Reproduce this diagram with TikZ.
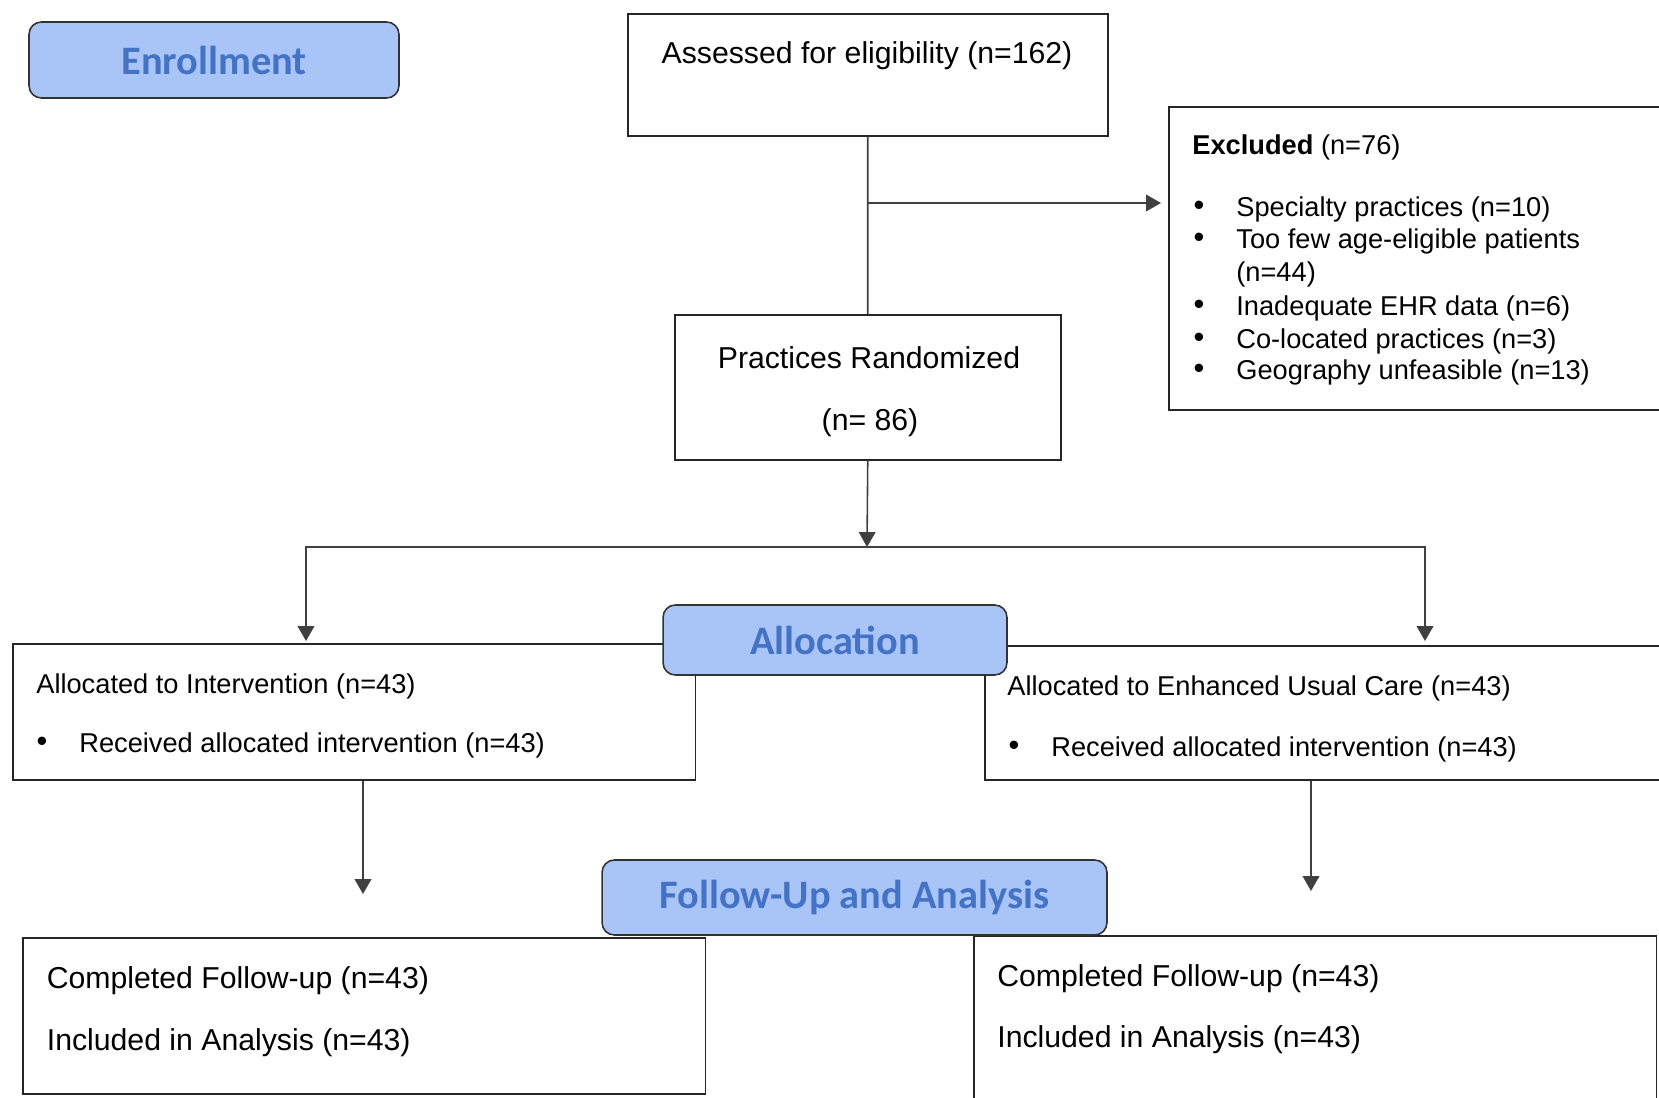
\documentclass[tikz,border=0pt]{standalone}
\usepackage{fontspec}
\setmainfont{Liberation Sans}
\newfontfamily\hdrfont{Carlito}
\usetikzlibrary{arrows.meta}

\definecolor{hdrfill}{RGB}{169,197,248}
\definecolor{hdrtext}{RGB}{68,114,196}

\begin{document}
\begin{tikzpicture}[x=0.02cm, y=-0.02cm,
  box/.style={draw=black!85, line width=0.9pt, inner sep=0pt, anchor=north west},
  hdr/.style={draw=black!80, line width=0.9pt, rounded corners=7pt, fill=hdrfill,
    text=hdrtext, font=\hdrfont\bfseries\fontsize{23}{28}\selectfont, inner sep=0pt},
  txt/.style={anchor=west, inner sep=0pt, font=\fontsize{15.5}{19}\selectfont},
  bigtxt/.style={inner sep=0pt, font=\fontsize{17.2}{21}\selectfont},
  dot/.style={inner sep=0pt, font=\fontsize{17.5}{19}\selectfont},
  line/.style={draw=black!75, line width=0.9pt},
  arr/.style={line, -{Triangle[length=8.5pt,width=9.5pt]}}]

\useasboundingbox (0,0) rectangle (1659,1098);
\clip (0,0) rectangle (1659,1098);

%% boxes
\node [box, minimum width=9.6cm, minimum height=2.44cm] (assess) at (627,13) {};
\node [box, minimum width=10.4cm, minimum height=6.06cm] (excl) at (1168,106) {};
\node [box, minimum width=7.72cm, minimum height=2.9cm] (rand) at (674,314) {};
\node [box, minimum width=13.66cm, minimum height=2.72cm] (allocL) at (12,643) {};
\node [box, minimum width=14.12cm, minimum height=2.68cm] (allocR) at (984,645) {};
\node [box, minimum width=13.66cm, minimum height=3.12cm] (fuL) at (22,937) {};
\node [box, minimum width=13.66cm, minimum height=3.7cm] (fuR) at (973,935) {};

%% connectors
\draw [line] (assess.south) -- (rand.north);
\coordinate (tee) at (867,203);
\draw [arr, shorten >=4pt] (tee) -- (excl.west |- tee);

\coordinate (split) at (867,547);
\coordinate (armL) at (306,641);
\coordinate (armR) at (1425,641);
\draw [arr] (rand.south) -- (split);
\draw [arr] (split) -| (armL);
\draw [arr] (split) -| (armR);

\coordinate (dropL) at (363,894);
\coordinate (dropR) at (1311,891);
\draw [arr] (allocL.south -| dropL) -- (dropL);
\draw [arr] (allocR.south -| dropR) -- (dropR);

%% stage headers
\node [hdr, minimum width=7.4cm, minimum height=1.52cm] (enroll) at (214,60) {Enrollment};
\node [hdr, minimum width=6.88cm, minimum height=1.4cm] (allocHdr) at (835,640) {Allocation};
\node [hdr, minimum width=10.1cm, minimum height=1.5cm] (fuHdr) at (854.5,897.5) {Follow-Up and Analysis};

%% Assessed
\node [bigtxt] (assessTxt) at (867,56) {Assessed for eligibility (n=162)};

%% Excluded
\node [txt] (exclHead) at (1192,147) {\textbf{Excluded} (n=76)};
\node [dot] (exclB1) at (1199,208) {\textbullet};
\node [txt] (exclT1) at (1236,209) {Specialty practices (n=10)};
\node [dot] (exclB2) at (1199,240) {\textbullet};
\node [txt] (exclT2) at (1236,241) {Too few age-eligible patients};
\node [txt] (exclT2b) at (1236,274) {(n=44)};
\node [dot] (exclB3) at (1199,307) {\textbullet};
\node [txt] (exclT3) at (1236,308) {Inadequate EHR data (n=6)};
\node [dot] (exclB4) at (1199,340) {\textbullet};
\node [txt] (exclT4) at (1236,341) {Co-located practices (n=3)};
\node [dot] (exclB5) at (1199,371) {\textbullet};
\node [txt] (exclT5) at (1236,372) {Geography unfeasible (n=13)};

%% Randomized
\node [bigtxt] (randTxt) at (869,358) {Practices Randomized};
\node [bigtxt] (randN) at (870,423) {(n= 86)};

%% Allocation, left and right
\node [txt] (allocLTxt) at (36,686) {Allocated to Intervention (n=43)};
\node [dot] (allocLB) at (42,744) {\textbullet};
\node [txt] (allocLRec) at (79,745) {Received allocated intervention (n=43)};
\node [txt] (allocRTxt) at (1007,688) {Allocated to Enhanced Usual Care (n=43)};
\node [dot] (allocRB) at (1014,748) {\textbullet};
\node [txt] (allocRRec) at (1051,749) {Received allocated intervention (n=43)};

%% Follow-up, left and right
\node [bigtxt, anchor=west] (fuLDone) at (46.5,981) {Completed Follow-up (n=43)};
\node [bigtxt, anchor=west] (fuLIncl) at (46.5,1043) {Included in Analysis (n=43)};
\node [bigtxt, anchor=west] (fuRDone) at (997,979) {Completed Follow-up (n=43)};
\node [bigtxt, anchor=west] (fuRIncl) at (997,1040) {Included in Analysis (n=43)};

\end{tikzpicture}
\end{document}
